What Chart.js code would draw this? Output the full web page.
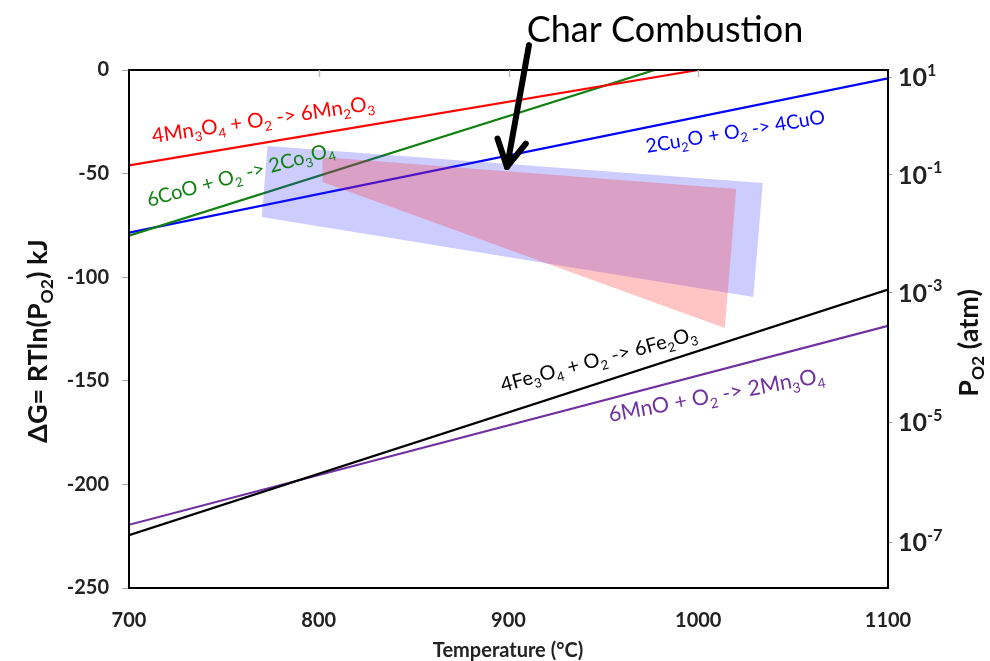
<!DOCTYPE html>
<html lang="en">
<head>
<meta charset="UTF-8">
<title>Char Combustion - oxygen carrier equilibria</title>
<script src="https://cdn.jsdelivr.net/npm/chart.js"></script>
<style>
body { margin: 0; background: #fff; }
#wrap { width: 990px; height: 661px; position: relative; }
</style>
</head>
<body>
<div id="wrap"><canvas id="chart"></canvas></div>
<script>
// Reaction lines: temperature (°C) and deltaG (kJ) at both ends
const mn3o4T = [700, 1000];
const mn3o4G = [-46, 0];
const cooT = [700, 977];
const cooG = [-80, 0];
const cu2oT = [700, 1100];
const cu2oG = [-78.5, -4];
const fe3o4T = [700, 1100];
const fe3o4G = [-224.5, -106];
const mnoT = [700, 1100];
const mnoG = [-219.5, -123.5];

// Shaded windows (corners)
const blueBoxT = [773, 1034, 1029, 770];
const blueBoxG = [-36.7, -54.5, -109.6, -70.9];
const pinkBoxT = [802, 1020, 1014, 802];
const pinkBoxG = [-42, -57.4, -124.5, -54.1];

// Axis ticks
const xTicks = [700, 800, 900, 1000, 1100];
const yTicks = [0, -50, -100, -150, -200, -250];
const po2At = [-3.5, -50.5, -107.5, -170, -228];
const po2Exp = ['1', '-1', '-3', '-5', '-7'];

function pts(xs, ys) { return xs.map((x, i) => ({ x: x, y: ys[i] })); }

function lineSet(xs, ys, color) {
    return { data: pts(xs, ys), borderColor: color, borderWidth: 2.2, pointRadius: 0, fill: false, order: 2 };
}
function boxSet(xs, ys, color, order) {
    const p = pts(xs, ys);
    p.push(p[0]);
    return { data: p, borderWidth: 0, borderColor: 'rgba(0,0,0,0)', backgroundColor: color, pointRadius: 0, fill: 'shape', order: order };
}

const notes = [
    { text: '4Mn_{3}O_{4} + O_{2} -> 6Mn_{2}O_{3}', t: 712.6, g: -35.2, angle: -8.5, color: '#ff0000', size: 20.5 },
    { text: '6CoO + O_{2} -> 2Co_{3}O_{4}', t: 710.5, g: -66.1, angle: -15.5, color: '#108010', size: 20 },
    { text: '2Cu_{2}O + O_{2} -> 4CuO', t: 973, g: -40.1, angle: -9.5, color: '#0000ff', size: 19.5 },
    { text: '4Fe_{3}O_{4} + O_{2} -> 6Fe_{2}O_{3}', t: 897, g: -155.4, angle: -15, color: '#000000', size: 20 },
    { text: '6MnO + O_{2} -> 2Mn_{3}O_{4}', t: 953.5, g: -169.9, angle: -10.5, color: '#7030a0', size: 21.5 }
];

// text with _{sub} and ^{sup}
function richParts(str) {
    const out = [];
    const re = /([_^])\{([^}]*)\}/g;
    let last = 0, m;
    while ((m = re.exec(str)) !== null) {
        if (m.index > last) out.push({ s: str.slice(last, m.index), k: '' });
        out.push({ s: m[2], k: m[1] });
        last = re.lastIndex;
    }
    if (last < str.length) out.push({ s: str.slice(last), k: '' });
    return out;
}
function drawRich(ctx, str, x, y, size, weight, color, align) {
    const fam = 'Lato, "Open Sans", sans-serif';
    const parts = richParts(str);
    let w = 0;
    parts.forEach(p => {
        p.size = p.k ? size * 0.65 : size;
        ctx.font = weight + ' ' + p.size + 'px ' + fam;
        p.w = ctx.measureText(p.s).width;
        w += p.w;
    });
    let cx = x;
    if (align === 'center') cx = x - w / 2;
    ctx.fillStyle = color;
    ctx.textBaseline = 'alphabetic';
    ctx.textAlign = 'left';
    parts.forEach(p => {
        ctx.font = weight + ' ' + p.size + 'px ' + fam;
        let dy = 0;
        if (p.k === '_') dy = size * 0.24;
        if (p.k === '^') dy = -size * 0.42;
        ctx.fillText(p.s, cx, y + dy);
        cx += p.w;
    });
    return w;
}

const decorations = {
    id: 'decorations',
    afterDraw(chart) {
        const ctx = chart.ctx;
        const a = chart.chartArea;
        const xs = chart.scales.x, ys = chart.scales.y;
        ctx.save();

        // frame
        ctx.strokeStyle = '#000';
        ctx.lineWidth = 2;
        ctx.strokeRect(a.left, a.top, a.right - a.left, a.bottom - a.top);

        // small inward ticks on top edge
        ctx.strokeStyle = '#bbb';
        ctx.lineWidth = 1.5;
        xTicks.slice(1, -1).forEach(v => {
            const px = Math.round(xs.getPixelForValue(v)) + 0.5;
            ctx.beginPath(); ctx.moveTo(px, a.top); ctx.lineTo(px, a.top + 7); ctx.stroke();
        });

        // reaction labels
        notes.forEach(n => {
            ctx.save();
            ctx.translate(xs.getPixelForValue(n.t), ys.getPixelForValue(n.g));
            ctx.rotate(n.angle * Math.PI / 180);
            drawRich(ctx, n.text, 0, 0, n.size, 'normal', n.color, 'left');
            ctx.restore();
        });

        // right axis labels (10^n)
        const y2 = chart.scales.y2;
        po2At.forEach((v, i) => {
            const py = y2.getPixelForValue(v);
            drawRich(ctx, '10^{' + po2Exp[i] + '}', a.right + 10, py + 9, 25, 'bold', '#222', 'left');
        });

        // axis titles
        ctx.save();
        ctx.translate(38, 341);
        ctx.rotate(-Math.PI / 2);
        drawRich(ctx, '\u0394G= RTln(P_{O2}) kJ', 0, 9, 27, 'bold', '#111', 'center');
        ctx.restore();

        ctx.save();
        ctx.translate(969, 343);
        ctx.rotate(-Math.PI / 2);
        drawRich(ctx, 'P_{O2} (atm)', 0, 9, 27, 'bold', '#111', 'center');
        ctx.restore();

        drawRich(ctx, 'Temperature (\u00b0C)', 508, 657, 20, 'bold', '#222', 'center');

        // title and arrow
        drawRich(ctx, 'Char Combustion', 665, 42, 36, 'normal', '#000', 'center');
        const x0 = xs.getPixelForValue(910.8), y0 = ys.getPixelForValue(12);
        const x1 = xs.getPixelForValue(899.2), y1 = ys.getPixelForValue(-46.8);
        ctx.strokeStyle = '#000';
        ctx.lineWidth = 6;
        ctx.lineCap = 'round';
        ctx.lineJoin = 'round';
        ctx.beginPath(); ctx.moveTo(x0, y0); ctx.lineTo(x1, y1); ctx.stroke();
        const ang = Math.atan2(y1 - y0, x1 - x0);
        const hl = 30, spread = 0.5;
        ctx.beginPath();
        ctx.moveTo(x1 - hl * Math.cos(ang - spread), y1 - hl * Math.sin(ang - spread));
        ctx.lineTo(x1, y1);
        ctx.lineTo(x1 - hl * Math.cos(ang + spread), y1 - hl * Math.sin(ang + spread));
        ctx.stroke();

        ctx.restore();
    }
};

const tickFont = { family: 'Lato, "Open Sans", sans-serif', size: 20, weight: 'bold' };

new Chart(document.getElementById('chart'), {
    type: 'line',
    data: {
        datasets: [
            boxSet(pinkBoxT, pinkBoxG, 'rgba(255,40,40,0.27)', 0),
            boxSet(blueBoxT, blueBoxG, 'rgba(40,40,255,0.24)', 1),
            lineSet(mn3o4T, mn3o4G, '#ff0000'),
            lineSet(cooT, cooG, '#108010'),
            lineSet(cu2oT, cu2oG, '#0000ff'),
            lineSet(fe3o4T, fe3o4G, '#000000'),
            lineSet(mnoT, mnoG, '#7030a0')
        ]
    },
    options: {
        responsive: true,
        maintainAspectRatio: false,
        animation: false,
        layout: { padding: { top: 70, left: 0, right: 0, bottom: 0 } },
        plugins: { legend: { display: false }, tooltip: { enabled: false } },
        scales: {
            x: {
                type: 'linear', min: 700, max: 1100,
                afterBuildTicks: s => { s.ticks = xTicks.map(v => ({ value: v })); },
                afterFit: s => { s.height = 73; },
                grid: { display: false, drawTicks: false },
                border: { display: true, color: '#000', width: 2 },
                ticks: { padding: 21, font: tickFont, color: '#222', callback: v => String(v) }
            },
            y: {
                position: 'left', min: -250, max: 0,
                afterBuildTicks: s => { s.ticks = yTicks.map(v => ({ value: v })); },
                afterFit: s => { s.width = 129; },
                grid: { drawOnChartArea: false, drawTicks: true, tickLength: 7, color: '#aaa' },
                border: { display: true, color: '#000', width: 2 },
                ticks: { padding: 13, font: tickFont, color: '#222', callback: v => String(v) }
            },
            y2: {
                position: 'right', min: -250, max: 0,
                afterBuildTicks: s => { s.ticks = po2At.map(v => ({ value: v })); },
                afterFit: s => { s.width = 102; },
                grid: { drawOnChartArea: false, drawTicks: true, tickLength: 4, color: '#999' },
                border: { display: true, color: '#000', width: 2 },
                ticks: { display: false }
            }
        }
    },
    plugins: [decorations]
});
</script>
</body>
</html>
